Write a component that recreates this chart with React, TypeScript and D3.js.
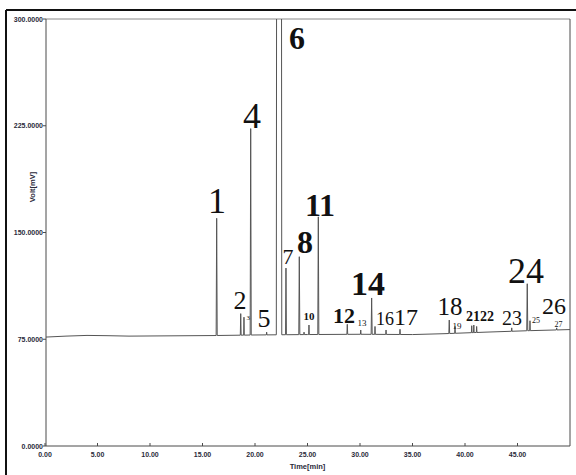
import React from "react";
import * as d3 from "d3";

// ---- data ----
const yTicks = [0, 75, 150, 225, 300];
const yTickLabels = ["0.0000", "75.0000", "150.0000", "225.0000", "300.0000"];
const xTicks = [0, 5, 10, 15, 20, 25, 30, 35, 40, 45];
const xTickLabels = ["0.00", "5.00", "10.00", "15.00", "20.00", "25.00", "30.00", "35.00", "40.00", "45.00"];

// baseline (time min, mV)
const baseTimes = [0, 2, 4, 6, 8, 12, 16, 20, 25, 30, 35, 38, 42, 46, 50];
const baseValues = [76.5, 77.2, 77.7, 77.5, 77.2, 77.4, 77.6, 78.0, 78.3, 78.5, 78.3, 78.9, 80.0, 81.0, 81.8];

// peaks: retention time (min), apex (mV), half width (min)
const peakTimes = [16.35, 18.64, 18.95, 19.59, 21.11, 22.29, 22.95, 24.22, 24.67, 25.14, 26.03, 28.79, 30.07, 31.11, 31.43, 32.48, 33.81, 38.5, 39.05, 40.64, 40.84, 41.11, 44.45, 45.93, 46.19, 48.73];
const peakApex = [160, 93, 90.5, 223, 80, 2600, 125, 133, 80, 85, 161, 85.5, 81.5, 104, 84, 81.5, 82, 88.5, 84, 84.5, 85, 84, 83, 114, 88, 83];
const peakHalfWidth = [0.05, 0.04, 0.03, 0.05, 0.03, 0.26, 0.04, 0.05, 0.03, 0.03, 0.05, 0.04, 0.03, 0.05, 0.03, 0.03, 0.03, 0.04, 0.03, 0.03, 0.03, 0.03, 0.03, 0.05, 0.03, 0.03];

// peak number annotations
const labelTexts = ["1", "2", "3", "4", "5", "6", "7", "8", "10", "11", "12", "13", "14", "16", "17", "18", "19", "21", "22", "23", "24", "25", "26", "27"];
const labelTimes = [16.38, 18.57, 19.36, 19.71, 20.86, 24.0, 23.14, 24.76, 25.14, 26.19, 28.48, 30.19, 30.76, 32.38, 34.38, 38.57, 39.24, 40.76, 42.1, 44.48, 45.81, 46.76, 48.48, 48.9];
const labelValues = [163.7, 96.3, 88.5, 223.4, 83.6, 279, 127.9, 135.6, 88.5, 161.6, 86.4, 84.3, 106, 85, 85, 92.0, 82.2, 87.8, 87.8, 85, 114.5, 86.4, 92.7, 83.6];
const labelSizes = [36, 26, 7, 36, 26, 32, 22, 32, 11, 32, 22, 9, 34, 18, 24, 25, 9, 14, 14, 20, 36, 8, 24, 8];
const labelBold = [false, false, false, false, false, true, false, true, true, true, true, false, true, false, false, false, false, true, true, false, false, false, false, false];

const W = 576;
const H = 475;
const left = 46;
const right = 570;
const top = 19;
const bottom = 446;

export default function App() {
  const x = d3.scaleLinear().domain([0, 50]).range([45, 570]);
  const y = d3.scaleLinear().domain([0, 300]).range([bottom, top]);
  const base = d3.scaleLinear().domain(baseTimes).range(baseValues);

  // build trace points
  const pts: [number, number][] = [];
  baseTimes.forEach((t, i) => pts.push([t, baseValues[i]]));
  peakTimes.forEach((t, i) => {
    const hw = peakHalfWidth[i];
    pts.push([t - hw, base(t - hw)]);
    pts.push([t, peakApex[i]]);
    pts.push([t + hw, base(t + hw)]);
  });
  const filtered = pts.filter(([t], idx) => {
    if (idx >= baseTimes.length) return true;
    return !peakTimes.some((pt, i) => Math.abs(t - pt) < peakHalfWidth[i] + 0.001);
  });
  filtered.sort((a, b) => a[0] - b[0]);

  const line = d3
    .line<[number, number]>()
    .x((d) => x(d[0]))
    .y((d) => y(d[1]));

  const axisColor = "#4a4a4a";
  const tickFont = "Liberation Sans, Arial, sans-serif";

  return (
    <svg
      width={W}
      height={H}
      style={{ position: "absolute", left: 0, top: 0, background: "#fff" }}
    >
      <defs>
        <clipPath id="plotclip">
          <rect x={left} y={top} width={right - left} height={bottom - top} />
        </clipPath>
      </defs>
      {/* outer frame */}
      <line x1={6} y1={10} x2={W} y2={10} stroke="#111" strokeWidth={2} />
      <line x1={6} y1={10} x2={6} y2={H} stroke="#111" strokeWidth={2} />

      {/* plot box */}
      <line x1={left} y1={top} x2={right} y2={top} stroke="#888" strokeWidth={1} />
      <line x1={right} y1={top} x2={right} y2={bottom} stroke={axisColor} strokeWidth={1} />
      <line x1={left} y1={top} x2={left} y2={bottom} stroke={axisColor} strokeWidth={1} />
      <line x1={left} y1={bottom} x2={right} y2={bottom} stroke={axisColor} strokeWidth={1} />

      {/* y ticks */}
      {yTicks.map((v, i) => (
        <g key={"y" + i}>
          <line x1={left - 3} x2={left} y1={y(v)} y2={y(v)} stroke={axisColor} />
          <text
            x={left - 3}
            y={y(v) + 2.5}
            textAnchor="end"
            fontSize={7}
            fontWeight="bold"
            fontFamily={tickFont}
            fill="#2a2a3a"
          >
            {yTickLabels[i]}
          </text>
        </g>
      ))}
      {/* x ticks */}
      {xTicks.map((t, i) => (
        <g key={"x" + i}>
          <line x1={x(t)} x2={x(t)} y1={bottom} y2={bottom - 3} stroke={axisColor} />
          <text
            x={x(t)}
            y={bottom + 11}
            textAnchor="middle"
            fontSize={7}
            fontWeight="bold"
            fontFamily={tickFont}
            fill="#2a2a3a"
          >
            {xTickLabels[i]}
          </text>
        </g>
      ))}
      <text
        x={x(25)}
        y={bottom + 23}
        textAnchor="middle"
        fontSize={7.5}
        fontWeight="bold"
        fontFamily={tickFont}
        fill="#2a2a3a"
      >
        Time[min]
      </text>
      <text
        transform={`translate(35, 187) rotate(-90)`}
        textAnchor="middle"
        fontSize={7.5}
        fontWeight="bold"
        fontFamily={tickFont}
        fill="#2a2a3a"
      >
        Volt[mV]
      </text>

      {/* trace */}
      <path
        d={line(filtered) || ""}
        fill="none"
        stroke="#555"
        strokeWidth={1}
        clipPath="url(#plotclip)"
      />

      {/* peak labels */}
      {labelTexts.map((s, i) => (
        <text
          key={"l" + i}
          x={x(labelTimes[i])}
          y={y(labelValues[i])}
          textAnchor="middle"
          fontSize={labelSizes[i]}
          fontWeight={labelBold[i] ? "bold" : "normal"}
          fontFamily="Liberation Serif, Times New Roman, serif"
          fill="#111"
        >
          {s}
        </text>
      ))}
    </svg>
  );
}
